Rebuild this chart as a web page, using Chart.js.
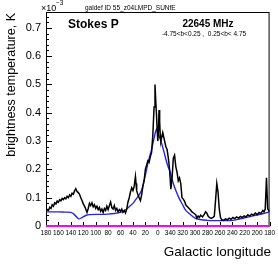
<!DOCTYPE html>
<html>
<head>
<meta charset="utf-8">
<script src="https://cdn.jsdelivr.net/npm/chart.js@4.4.0/dist/chart.umd.min.js"></script>
<style>
  body { margin: 0; background: #fff; }
  #wrap { width: 278px; height: 267px; position: relative; }
</style>
</head>
<body>
<div id="wrap"><canvas id="myChart"></canvas></div>
<script>
// longitude in degrees (180 ... 0 ... -180 shown as 180 ... 0 ... 360 ... 180), values in 1e-3 K
var modelLon = [180, 170, 160, 150, 140, 135, 130, 127, 122, 115, 110, 100, 90, 80, 70, 60, 55, 50, 45, 40, 36, 30, 26, 20, 15, 10, 5, 2, 0, -5, -9, -15, -20, -25, -30, -35, -40, -45, -50, -60, -70, -80, -90, -100, -110, -120, -130, -140, -150, -160, -170, -180];
var modelVal = [0.05, 0.05, 0.05, 0.049, 0.048, 0.042, 0.03, 0.025, 0.03, 0.038, 0.04, 0.041, 0.041, 0.042, 0.044, 0.048, 0.053, 0.06, 0.07, 0.08, 0.092, 0.11, 0.127, 0.18, 0.23, 0.27, 0.32, 0.343, 0.33, 0.3, 0.27, 0.22, 0.19, 0.15, 0.12, 0.095, 0.075, 0.055, 0.045, 0.028, 0.022, 0.02, 0.019, 0.019, 0.019, 0.02, 0.024, 0.029, 0.034, 0.039, 0.044, 0.05];

var dataLon = [180, 178, 176, 174, 172, 170, 168, 166, 164, 162, 160, 158, 156, 154, 152, 150, 148, 146, 144, 142, 140, 138, 136, 134, 132, 130, 128, 126, 124, 122, 120, 118, 116, 114, 112, 110, 108, 106, 104, 102, 100, 98, 96, 94, 92, 90, 88, 86, 84, 82, 80, 78, 76, 74, 72, 70, 68, 66, 64, 62, 60, 58, 56, 54, 52, 50, 48, 46, 44, 42, 40, 38, 36, 35, 34, 32, 30, 28, 26, 24, 22, 20, 18, 16, 14, 12, 10, 8, 6, 4.5, 3, 2, 1, 0, -1, -2, -3, -4, -5, -6, -8, -9, -11, -13, -15, -17, -19, -21, -23, -25, -27, -29, -31, -33, -35, -37, -39, -41, -43, -45, -47, -49, -52, -55, -58, -61, -63, -65, -67, -69, -72, -75, -77, -79, -81, -83, -86, -89, -91, -93, -95, -97, -99, -101, -103, -106, -109, -112, -115, -118, -121, -124, -127, -130, -133, -136, -139, -142, -145, -148, -151, -154, -157, -160, -163, -166, -169, -171, -173, -175, -177, -178, -180];
var dataVal = [0.053, 0.058, 0.055, 0.066, 0.062, 0.075, 0.07, 0.082, 0.078, 0.088, 0.084, 0.093, 0.089, 0.097, 0.093, 0.1, 0.096, 0.105, 0.1, 0.11, 0.105, 0.116, 0.112, 0.124, 0.132, 0.122, 0.118, 0.112, 0.1, 0.09, 0.078, 0.07, 0.06, 0.048, 0.062, 0.08, 0.072, 0.082, 0.068, 0.075, 0.062, 0.07, 0.058, 0.066, 0.052, 0.06, 0.048, 0.062, 0.055, 0.07, 0.058, 0.072, 0.085, 0.065, 0.06, 0.072, 0.055, 0.062, 0.05, 0.058, 0.052, 0.06, 0.048, 0.055, 0.046, 0.06, 0.085, 0.1, 0.12, 0.135, 0.125, 0.14, 0.175, 0.15, 0.125, 0.11, 0.1, 0.09, 0.11, 0.14, 0.16, 0.2, 0.215, 0.23, 0.225, 0.245, 0.26, 0.32, 0.42, 0.5, 0.43, 0.39, 0.34, 0.3, 0.33, 0.41, 0.37, 0.32, 0.3, 0.31, 0.33, 0.32, 0.3, 0.28, 0.27, 0.24, 0.2, 0.13, 0.17, 0.24, 0.25, 0.21, 0.19, 0.16, 0.17, 0.15, 0.1, 0.095, 0.088, 0.075, 0.07, 0.065, 0.058, 0.05, 0.045, 0.04, 0.028, 0.035, 0.03, 0.038, 0.032, 0.042, 0.05, 0.045, 0.035, 0.03, 0.027, 0.03, 0.035, 0.09, 0.15, 0.12, 0.06, 0.03, 0.022, 0.02, 0.025, 0.022, 0.028, 0.024, 0.03, 0.026, 0.032, 0.028, 0.034, 0.03, 0.036, 0.032, 0.04, 0.035, 0.042, 0.038, 0.046, 0.04, 0.048, 0.044, 0.055, 0.05, 0.06, 0.17, 0.06, 0.058, 0.05];

var zeroLon = [180, -180];
var zeroVal = [0, 0];

var yTicks = [0, 0.1, 0.2, 0.3, 0.4, 0.5, 0.6, 0.7];

const pts = (xs, ys) => xs.map((x, i) => ({ x: x, y: ys[i] }));
const FONT = "'Liberation Sans', Arial, sans-serif";

// frame, inward ticks and the ROOT-style labels
const decor = {
    id: "decor",
    beforeDatasetsDraw(chart) {
        const ctx = chart.ctx, a = chart.chartArea;
        const xs = chart.scales.x, ys = chart.scales.y;
        ctx.save();
        ctx.strokeStyle = "#000";
        ctx.lineWidth = 1;
        ctx.strokeRect(a.left + 0.5, a.top + 0.5, a.right - a.left - 1, a.bottom - a.top);
        ctx.beginPath();
        for (let v = 0; v <= 0.76; v += 0.02) {
            const y = Math.round(ys.getPixelForValue(v)) + 0.5;
            const major = Math.abs(v * 10 - Math.round(v * 10)) < 1e-6;
            ctx.moveTo(a.left, y);
            ctx.lineTo(a.left + (major ? 6 : 3), y);
        }
        for (let l = -180; l <= 180; l += 20) {
            const x = Math.round(xs.getPixelForValue(l)) + 0.5;
            ctx.moveTo(x, a.bottom);
            ctx.lineTo(x, a.bottom - 4);
        }
        ctx.stroke();
        ctx.restore();
    },
    afterDraw(chart) {
        const ctx = chart.ctx;
        ctx.save();
        ctx.fillStyle = "#000";
        ctx.textAlign = "left";
        ctx.textBaseline = "alphabetic";
        ctx.font = "9px " + FONT;
        ctx.fillText("\u00d710", 41, 11);
        ctx.font = "6.5px " + FONT;
        ctx.fillText("\u22123", 56, 5);
        ctx.font = "6.5px " + FONT;
        ctx.fillText("galdef ID 55_z04LMPD_SUNfE", 85, 10);
        ctx.font = "bold 12px " + FONT;
        ctx.fillText("Stokes P", 68, 28);
        ctx.textAlign = "center";
        ctx.font = "bold 10px " + FONT;
        ctx.fillText("22645 MHz", 208, 27);
        ctx.font = "6.5px " + FONT;
        ctx.fillText("-4.75<b<0.25 ,  0.25<b< 4.75", 204, 36);
        ctx.textAlign = "right";
        ctx.font = "13.5px " + FONT;
        ctx.fillText("Galactic longitude", 271, 256);
        ctx.translate(15, 13);
        ctx.rotate(-Math.PI / 2);
        ctx.font = "12.5px " + FONT;
        ctx.fillText("brightness temperature, K", 0, 0);
        ctx.restore();
    }
};

new Chart("myChart", {
    type: "line",
    data: {
        datasets: [{
            data: pts(dataLon, dataVal),
            borderColor: "#000",
            borderWidth: 1.5,
            pointRadius: 0,
            tension: 0
        }, {
            data: pts(modelLon, modelVal),
            borderColor: "#2424f0",
            borderWidth: 1.4,
            pointRadius: 0,
            tension: 0.3
        }, {
            data: pts(zeroLon, zeroVal),
            borderColor: "#ff00ff",
            borderWidth: 2,
            pointRadius: 0,
            clip: 3
        }]
    },
    options: {
        responsive: true,
        maintainAspectRatio: false,
        animation: false,
        layout: { padding: { left: 0, right: 5, top: 12, bottom: 0 } },
        plugins: { legend: { display: false }, tooltip: { enabled: false } },
        scales: {
            x: {
                type: "linear",
                min: -180,
                max: 180,
                reverse: true,
                grid: { display: false, drawTicks: false },
                border: { display: false },
                ticks: {
                    stepSize: 20,
                    autoSkip: false,
                    maxRotation: 0,
                    padding: 3,
                    color: "#000",
                    font: { family: FONT, size: 6.5 },
                    callback: (v) => v >= 0 ? v : 360 + v
                },
                afterFit: (s) => { s.height = 41; }
            },
            y: {
                min: 0,
                max: 0.756,
                grid: { display: false, drawTicks: false },
                border: { display: false },
                afterBuildTicks: (s) => { s.ticks = yTicks.map(v => ({ value: v })); },
                ticks: {
                    padding: 5,
                    color: "#000",
                    font: { family: FONT, size: 11 },
                    callback: (v) => v === 0 ? "0" : v.toFixed(1)
                },
                afterFit: (s) => { s.width = 46; }
            }
        }
    },
    plugins: [decor]
});
</script>
</body>
</html>
